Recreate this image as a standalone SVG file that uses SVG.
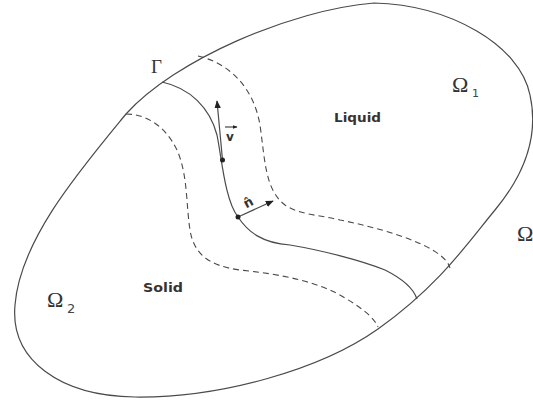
<svg xmlns="http://www.w3.org/2000/svg" width="533" height="403" viewBox="0 0 533 403">
<defs>
<style>
.ln{fill:none;stroke:#4a4a4a;stroke-width:1.2}
.ds{fill:none;stroke:#4a4a4a;stroke-width:1.1;stroke-dasharray:6 4}
.gr{font-family:"Liberation Serif",serif;fill:#333}
.sub{font-family:"DejaVu Sans","Liberation Sans",sans-serif;fill:#444}
.lb{font-family:"DejaVu Sans","Liberation Sans",sans-serif;font-weight:bold;fill:#333}
</style>
<marker id="ah" viewBox="0 0 10 10" refX="9" refY="5" markerWidth="8" markerHeight="8" markerUnits="userSpaceOnUse" orient="auto">
<path d="M0,1 L10,5 L0,9 Z" fill="#222"/>
</marker>
<marker id="ahs" viewBox="0 0 10 10" refX="9" refY="5" markerWidth="5" markerHeight="5" markerUnits="userSpaceOnUse" orient="auto">
<path d="M0,1 L10,5 L0,9 Z" fill="#222"/>
</marker>
</defs>
<rect width="533" height="403" fill="#fff"/>
<g id="domain">
<path class="ln" d="M374,3 C450,5 520,45 530,95 C540,140 520,180 495,210 C470,240 440,285 378,329 C320,370 220,398 135,397 C60,396 10,360 15,305 C20,240 80,170 126,114 C175,60 290,10 374,3 Z"/>
</g>
<g id="interface">
<path class="ln" d="M162,82 C190,88 210,108 217,135 C222,160 225,200 238,217 C248,232 262,243 290,245 C320,250 360,260 385,270 C405,280 414,290 417,299"/>
</g>
<g id="liquid-boundary">
<path class="ds" d="M198,56 C232,64 254,90 260,125 C265,160 265,190 285,205 C300,215 320,215 340,220 C380,228 420,240 440,255 C446,260 449,264 450,268"/>
</g>
<g id="solid-boundary">
<path class="ds" d="M126,114 C145,114 165,125 177,150 C188,175 186,205 190,230 C194,255 210,266 240,270 C280,274 320,282 345,298 C365,310 374,318 378,327"/>
</g>
<g id="connectors">
<line class="ln" x1="222.5" y1="160" x2="217" y2="101" marker-end="url(#ah)" stroke="#222"/>
<line class="ln" x1="238" y1="217" x2="273" y2="201" marker-end="url(#ah)" stroke="#222"/>
<circle cx="222.5" cy="160" r="2.5" fill="#222"/>
<circle cx="238" cy="217" r="2.5" fill="#222"/>
</g>
<g id="labels">
<text class="gr" x="151" y="73" font-size="19">Γ</text>
<text class="gr" x="452" y="92" font-size="22">Ω</text>
<text class="sub" x="472" y="97" font-size="11">1</text>
<text class="gr" x="47" y="307" font-size="22">Ω</text>
<text class="sub" x="67" y="313" font-size="13">2</text>
<text class="gr" x="517" y="241" font-size="22">Ω</text>
<text class="lb" x="334" y="122" font-size="12" textLength="47" lengthAdjust="spacingAndGlyphs">Liquid</text>
<text class="lb" x="143" y="292" font-size="12" textLength="40" lengthAdjust="spacingAndGlyphs">Solid</text>
<text class="lb" x="226" y="141" font-size="12">v</text>
<line x1="225" y1="127" x2="237" y2="127" stroke="#222" stroke-width="1" marker-end="url(#ahs)"/>
<text class="lb" x="248" y="207" font-size="13" text-anchor="middle" transform="rotate(-28 248 202)">n̂</text>
</g>
</svg>
